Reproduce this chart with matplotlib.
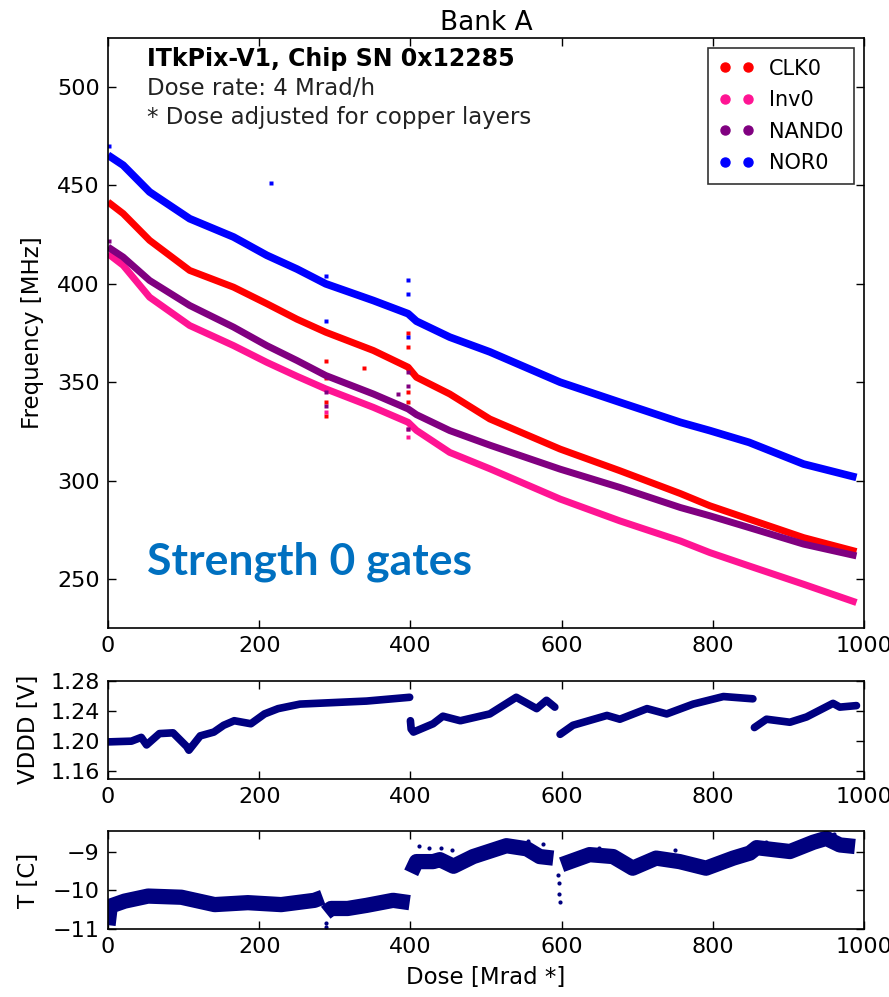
import numpy as np
import matplotlib.pyplot as plt
from matplotlib.lines import Line2D

# ring oscillator frequency [MHz], vs dose [Mrad]
dose = [0, 20, 55, 108, 166, 210, 250, 288, 351, 397, 408, 452, 505, 598, 677, 757, 796, 848, 920, 990]
clk0 = [441.6, 435.7, 422.1, 406.8, 398.3, 389.9, 382.0, 375.4, 366.1, 357.6, 352.5, 344.0, 331.3, 316.0, 305.0, 293.4, 287.2, 280.4, 271.0, 263.9]
inv0 = [415.3, 409.4, 393.2, 378.8, 368.6, 360.1, 353.0, 346.6, 337.2, 329.6, 325.5, 314.3, 306.0, 290.6, 279.5, 269.3, 263.4, 256.6, 247.3, 238.0]
nand0 = [418.7, 413.6, 401.7, 389.0, 378.0, 368.6, 361.0, 353.4, 344.0, 336.4, 333.5, 325.4, 318.0, 305.8, 296.5, 286.3, 282.1, 276.1, 267.7, 261.7]
nor0 = [465.4, 460.3, 446.7, 433.1, 423.8, 414.5, 407.5, 400.0, 391.5, 384.8, 381.0, 372.9, 365.4, 350.0, 339.8, 329.6, 325.4, 319.4, 308.4, 301.6]

# stray points (mostly the dropouts at ~288 and ~397 Mrad)
clk0_out_dose = [288, 288, 288, 288, 338, 397, 397, 397, 397]
clk0_out = [361, 352, 340, 333, 357, 375, 368, 345, 340]
inv0_out_dose = [288, 397, 397]
inv0_out = [335, 322, 326]
nand0_out_dose = [1, 288, 288, 384, 397, 397, 397]
nand0_out = [422, 345, 338, 344, 355, 348, 326]
nor0_out_dose = [1, 215, 288, 288, 397, 397, 397]
nor0_out = [470, 451, 404, 381, 402, 395, 373]

# VDDD [V], one list per power cycle segment
vddd_dose = [
    [0, 31, 44, 51, 68, 86, 104, 107, 122, 140, 153, 167, 189, 207, 225, 254, 298, 342, 399],
    [400, 401, 404, 430, 443, 466, 505, 540, 567, 580, 591],
    [598, 615, 660, 677, 713, 739, 774, 814, 853],
    [855, 871, 902, 924, 959, 968, 990],
]
vddd = [
    [1.199, 1.200, 1.205, 1.195, 1.210, 1.211, 1.193, 1.188, 1.207, 1.212, 1.221, 1.227, 1.223, 1.236, 1.243, 1.249, 1.251, 1.253, 1.258],
    [1.227, 1.216, 1.212, 1.223, 1.233, 1.227, 1.236, 1.258, 1.243, 1.254, 1.245],
    [1.209, 1.221, 1.234, 1.229, 1.243, 1.236, 1.249, 1.259, 1.256],
    [1.218, 1.229, 1.225, 1.232, 1.250, 1.245, 1.247],
]

# temperature [C]
temp_dose = [
    [0, 3, 22, 53, 97, 141, 185, 229, 273, 284],
    [288, 295, 317, 342, 377, 399],
    [401, 408, 430, 439, 457, 483, 527, 554, 571, 589],
    [600, 637, 668, 694, 725, 756, 791, 827, 849, 858, 902, 933, 950, 968, 988],
]
temp = [
    [-10.9, -10.41, -10.28, -10.15, -10.18, -10.37, -10.32, -10.37, -10.26, -10.18],
    [-10.58, -10.47, -10.47, -10.39, -10.26, -10.32],
    [-9.55, -9.26, -9.26, -9.21, -9.38, -9.13, -8.85, -8.93, -9.13, -9.17],
    [-9.34, -9.08, -9.13, -9.43, -9.17, -9.26, -9.43, -9.17, -9.04, -8.9, -9.0, -8.76, -8.66, -8.83, -8.87],
]
temp_out_dose = [412, 425, 440, 455, 520, 540, 556, 575, 595, 596, 597, 598, 288, 289, 650, 750, 870, 960]
temp_out = [-8.87, -8.9, -8.92, -8.95, -8.8, -8.75, -8.72, -8.8, -9.6, -9.8, -10.1, -10.3, -10.85, -10.95, -8.9, -8.95, -8.75, -8.55]

series = [
    ('CLK0', clk0, clk0_out_dose, clk0_out, '#ff0000', 5.0),
    ('Inv0', inv0, inv0_out_dose, inv0_out, '#ff1493', 5.0),
    ('NAND0', nand0, nand0_out_dose, nand0_out, '#800080', 5.0),
    ('NOR0', nor0, nor0_out_dose, nor0_out, '#0000ff', 5.5),
]

plt.rcParams['font.family'] = 'DejaVu Sans'
plt.rcParams['font.size'] = 16

fig = plt.figure(figsize=(8.89, 9.97), dpi=100)
ax1 = fig.add_axes([0.1215, 0.370, 0.8504, 0.592])
ax2 = fig.add_axes([0.1215, 0.2187, 0.8504, 0.0986])
ax3 = fig.add_axes([0.1215, 0.0682, 0.8504, 0.0983])

handles = []
for name, vals, odose, oval, col, lw in series:
    ax1.plot(dose, vals, '-', color=col, lw=lw, solid_capstyle='butt', zorder=2)
    ax1.plot(odose, oval, 's', color=col, ms=2.4, mec='none', zorder=2)
    handles.append(Line2D([], [], color=col, marker='o', ls='none', ms=6.5, label=name))

ax1.set_xlim(0, 1000)
ax1.set_ylim(225, 525)
ax1.set_yticks([250, 300, 350, 400, 450, 500])
ax1.set_ylabel('Frequency [MHz]', fontsize=16.5)
ax1.set_title('Bank A', fontsize=19, pad=6)

leg = ax1.legend(handles=handles, loc='upper right', numpoints=2, fontsize=15,
                 frameon=True, fancybox=False, edgecolor='black',
                 borderaxespad=0.5, handlelength=1.7, handletextpad=0.7,
                 labelspacing=0.55, borderpad=0.5)
leg.get_frame().set_linewidth(1.2)

ax1.text(0.0516, 0.964, 'ITkPix-V1, Chip SN 0x12285', transform=ax1.transAxes,
         fontsize=17, fontweight='bold', va='center')
ax1.text(0.0516, 0.9136, 'Dose rate: 4 Mrad/h', transform=ax1.transAxes,
         fontsize=16.5, va='center', color='#222222')
ax1.text(0.0516, 0.8644, '* Dose adjusted for copper layers', transform=ax1.transAxes,
         fontsize=16.5, va='center', color='#222222')
ax1.text(0.052, 0.112, 'Strength 0 gates', transform=ax1.transAxes,
         fontsize=32, fontweight='bold', family='Lato', color='#0070c0', va='center')

for seg_d, seg_v in zip(vddd_dose, vddd):
    ax2.plot(seg_d, seg_v, '-', color='#000080', lw=5.5, solid_capstyle='round')
ax2.set_xlim(0, 1000)
ax2.set_ylim(1.15, 1.28)
ax2.set_yticks([1.16, 1.20, 1.24, 1.28])
ax2.set_yticklabels(['1.16', '1.20', '1.24', '1.28'])
ax2.set_ylabel('VDDD [V]', fontsize=16.5)

for seg_d, seg_v in zip(temp_dose, temp):
    ax3.plot(seg_d, seg_v, '-', color='#000080', lw=11, solid_capstyle='butt')
ax3.plot(temp_out_dose, temp_out, 'o', color='#000080', ms=3, mec='none')
ax3.set_xlim(0, 1000)
ax3.set_ylim(-11, -8.47)
ax3.set_yticks([-11, -10, -9])
ax3.set_ylabel('T [C]', fontsize=16.5)
ax3.set_xlabel('Dose [Mrad *]', fontsize=16.5, labelpad=6)

for ax in (ax1, ax2, ax3):
    ax.set_xticks([0, 200, 400, 600, 800, 1000])
    ax.tick_params(direction='in', top=True, right=True, length=6, width=1,
                   labelsize=16, pad=6)
    for sp in ax.spines.values():
        sp.set_linewidth(1.2)

ax1.yaxis.set_label_coords(-0.085, 0.5)
ax2.yaxis.set_label_coords(-0.09, 0.5)
ax3.yaxis.set_label_coords(-0.09, 0.5)

fig.savefig('out.png', dpi=100, facecolor='white')
